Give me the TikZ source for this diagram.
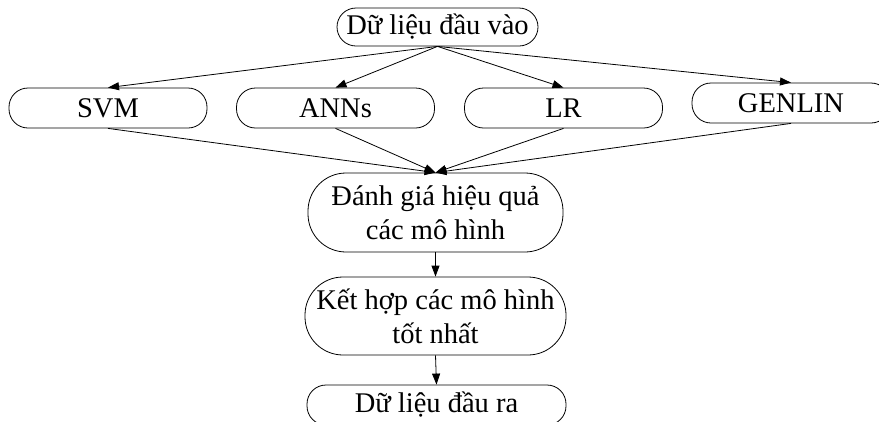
\documentclass[tikz,border=0pt]{standalone}
\usepackage{fontspec}
\setmainfont{Liberation Serif}
\usetikzlibrary{arrows.meta}
\begin{document}
\begin{tikzpicture}[x=1pt,y=-1pt,
  box/.style={draw, line width=0.8pt, rounded corners=19pt, inner sep=0pt, align=center,
    font=\fontsize{28.5}{34}\selectfont},
  bigbox/.style={box, rounded corners=38pt},
  arr/.style={line width=0.8pt, -{Triangle[length=11pt,width=8pt]}}]
\useasboundingbox (0,0) rectangle (879,421);
\clip (0,0) rectangle (879,421);
\node[box, minimum width=201pt, minimum height=38pt] (in) at (437.5,27) {Dữ liệu đầu vào};
\node[box, minimum width=198pt, minimum height=40pt] (svm) at (108,108) {SVM};
\node[box, minimum width=198pt, minimum height=40pt] (ann) at (335.5,108) {ANNs};
\node[box, minimum width=198pt, minimum height=40pt] (lr) at (563.5,108) {LR};
\node[box, minimum width=198pt, minimum height=40pt] (gen) at (791,103) {GENLIN};
\node[bigbox, minimum width=255pt, minimum height=79pt] (eval) at (435.5,212.5) {Đánh giá hiệu quả\\các mô hình};
\node[bigbox, minimum width=261pt, minimum height=78pt] (comb) at (435.5,316) {Kết hợp các mô hình\\tốt nhất};
\node[box, minimum width=259pt, minimum height=40pt] (out) at (436.5,405) {Dữ liệu đầu ra};
\foreach \n in {svm,ann,lr,gen} {
  \draw[arr] (in.south) -- (\n.north);
  \draw[arr] (\n.south) -- (eval.north);
}
\draw[arr] (eval.south) -- (comb.north);
\draw[arr] (comb.south) -- (out.north);
\end{tikzpicture}
\end{document}
